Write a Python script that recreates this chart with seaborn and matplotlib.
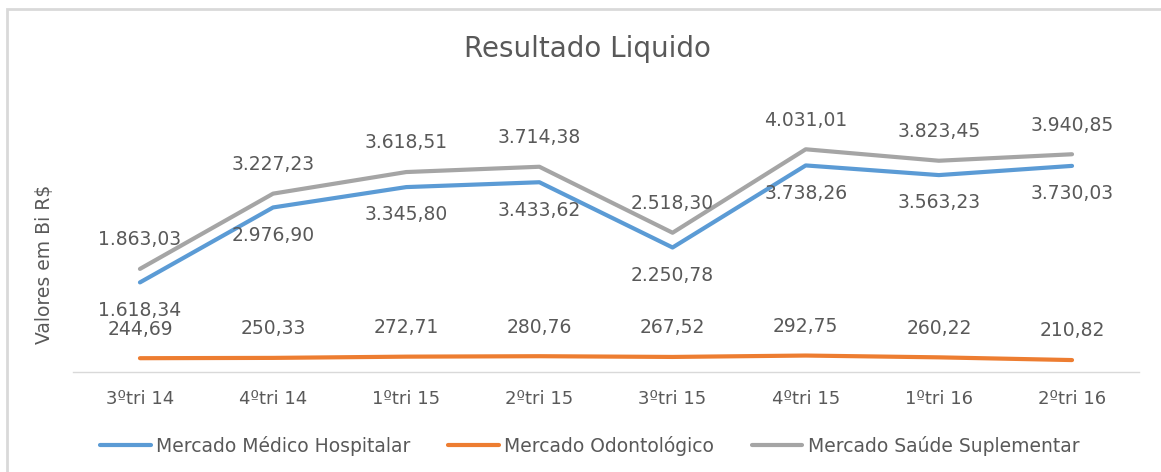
import pandas as pd
import seaborn as sns
import matplotlib.pyplot as plt
from matplotlib.patches import Rectangle

# chart data
trimestres = ["3ºtri 14", "4ºtri 14", "1ºtri 15", "2ºtri 15",
              "3ºtri 15", "4ºtri 15", "1ºtri 16", "2ºtri 16"]
medico_hosp = [1618.34, 2976.90, 3345.80, 3433.62, 2250.78, 3738.26, 3563.23, 3730.03]
odonto = [244.69, 250.33, 272.71, 280.76, 267.52, 292.75, 260.22, 210.82]
saude_supl = [1863.03, 3227.23, 3618.51, 3714.38, 2518.30, 4031.01, 3823.45, 3940.85]

series_names = ["Mercado Médico Hospitalar", "Mercado Odontológico", "Mercado Saúde Suplementar"]
series_vals = [medico_hosp, odonto, saude_supl]
label_offset = [-20, 21, 21]  # points: blue below, others above

colors = ["#5B9BD5", "#ED7D31", "#A5A5A5"]
text_col = "#595959"


def fmt_br(v):
    s = f"{v:,.2f}"
    return s.replace(",", "X").replace(".", ",").replace("X", ".")


rows = []
for name, vals in zip(series_names, series_vals):
    for t, v in zip(trimestres, vals):
        rows.append({"tri": t, "valor": v, "serie": name})
df = pd.DataFrame(rows)

sns.set_theme(style="white")
plt.rcParams["font.family"] = ["DejaVu Sans"]

fig = plt.figure(figsize=(11.61, 4.72), dpi=100)
ax = fig.add_axes([0.0632, 0.2125, 0.9175, 0.5845])

sns.lineplot(data=df, x="tri", y="valor", hue="serie", hue_order=series_names,
             palette=colors, linewidth=3, sort=False, ax=ax)

# data labels
for i, (name, vals) in enumerate(zip(series_names, series_vals)):
    for j, v in enumerate(vals):
        ax.annotate(fmt_br(v), (j, v), xytext=(0, label_offset[i]),
                    textcoords="offset points", ha="center", va="center",
                    fontsize=13.5, color=text_col)

ax.set_xlim(-0.5, len(trimestres) - 0.5)
ax.set_ylim(0, 5000)
ax.set_yticks([])
ax.set_xlabel("")
ax.set_ylabel("Valores em Bi R$", fontsize=13.5, color=text_col)
ax.yaxis.set_label_coords(-0.018, 0.39)
ax.tick_params(axis="x", length=0, labelsize=13, labelcolor=text_col, pad=13)
for side in ["top", "left", "right"]:
    ax.spines[side].set_visible(False)
ax.spines["bottom"].set_color("#D9D9D9")
ax.spines["bottom"].set_linewidth(1)

fig.text(0.506, 0.897, "Resultado Liquido", ha="center", va="center",
         fontsize=20, color=text_col)

handles, labels = ax.get_legend_handles_labels()
ax.legend_.remove()
fig.legend(handles, labels, loc="center", bbox_to_anchor=(0.508, 0.055), ncol=3,
           frameon=False, fontsize=13.5, handlelength=2.7, handletextpad=0.3,
           columnspacing=2.0, labelcolor=text_col)

# chart area border
fig.patches.append(Rectangle((7 / 1161, -0.1), 1.2, 1.1 - 9 / 472,
                             transform=fig.transFigure, fill=False,
                             edgecolor="#D9D9D9", linewidth=2))

fig.savefig("out.png", dpi=100)
